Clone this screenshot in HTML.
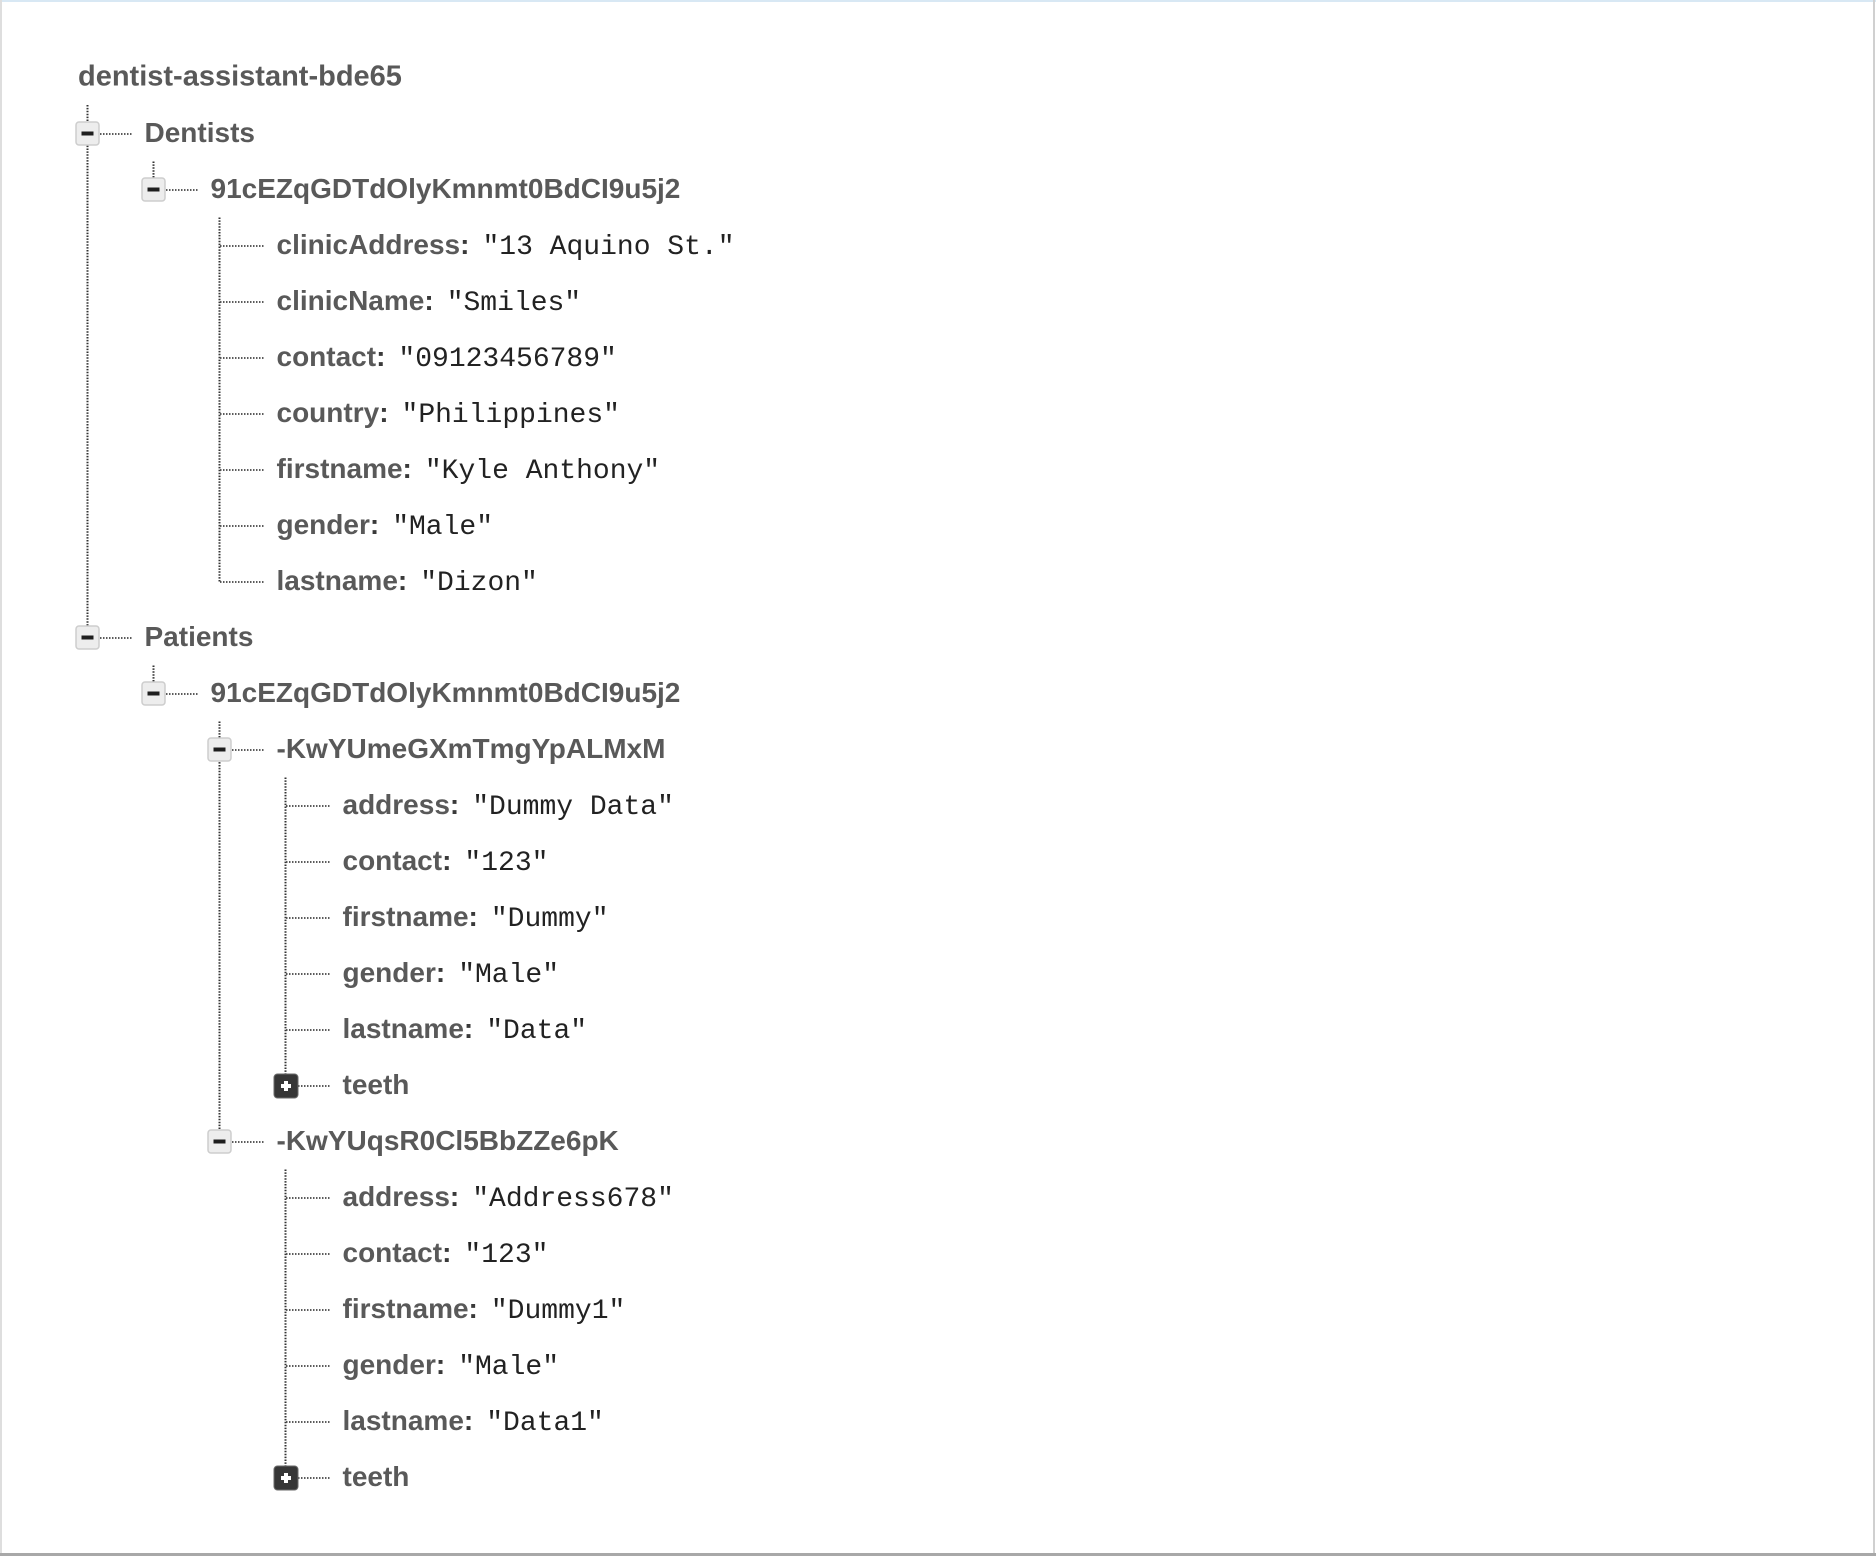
<!DOCTYPE html>
<html>
<head>
<meta charset="utf-8">
<style>
  html, body { margin:0; padding:0; background:#ffffff; }
  body { width:1876px; height:1556px; overflow:hidden; position:relative; }
  svg { position:absolute; left:0; top:0; }
  .lbl { font-family:"Liberation Sans", Arial, sans-serif; font-weight:700; font-size:28px; fill:#595959; }
  .col { font-family:"Liberation Sans", Arial, sans-serif; font-weight:700; font-size:28px; fill:#3a3a3a; }
  .val { font-family:"Liberation Mono", "Courier New", monospace; font-weight:400; font-size:28px; fill:#222222; }
  .ttl { font-family:"Liberation Sans", Arial, sans-serif; font-weight:700; font-size:29px; fill:#595959; }
  .vl { stroke:#333; stroke-width:2; stroke-dasharray:1.5 1.4; fill:none; }
  .hl { stroke:#444; stroke-width:1.7; stroke-dasharray:1.5 1.5; fill:none; }
</style>
</head>
<body>
<svg width="1876" height="1556" viewBox="0 0 1876 1556" xmlns="http://www.w3.org/2000/svg">
  <!-- frame -->
  <rect x="0" y="0" width="1876" height="2" fill="#d8e8f4"/>
  <rect x="0" y="0" width="2" height="1556" fill="#dedede"/>
  <rect x="1873" y="0" width="2" height="1556" fill="#d0d0d0"/>
  <rect x="0" y="1553" width="1876" height="3" fill="#a8a8a8"/>

  <!-- title -->
  <text class="ttl" x="78" y="85.5">dentist-assistant-bde65</text>

  <!-- vertical tree lines -->
  <line class="vl" x1="87.5" y1="105" x2="87.5" y2="626"/>
  <line class="vl" x1="153.5" y1="161.5" x2="153.5" y2="178"/>
  <line class="vl" x1="219.5" y1="217.5" x2="219.5" y2="582"/>
  <line class="vl" x1="153.5" y1="665.5" x2="153.5" y2="682"/>
  <line class="vl" x1="219.5" y1="721.5" x2="219.5" y2="1130"/>
  <line class="vl" x1="285.5" y1="777.5" x2="285.5" y2="1074"/>
  <line class="vl" x1="285.5" y1="1169.5" x2="285.5" y2="1466"/>

  <!-- horizontal connectors: box rows -->
  <line class="hl" x1="100" y1="134" x2="132" y2="134"/>
  <line class="hl" x1="166" y1="190" x2="198" y2="190"/>
  <line class="hl" x1="100" y1="638" x2="132" y2="638"/>
  <line class="hl" x1="166" y1="694" x2="198" y2="694"/>
  <line class="hl" x1="232" y1="750" x2="264" y2="750"/>
  <line class="hl" x1="298" y1="1086" x2="330" y2="1086"/>
  <line class="hl" x1="232" y1="1142" x2="264" y2="1142"/>
  <line class="hl" x1="298" y1="1478" x2="330" y2="1478"/>

  <!-- horizontal connectors: leaf rows level 3 -->
  <line class="hl" x1="220" y1="246" x2="264" y2="246"/>
  <line class="hl" x1="220" y1="302" x2="264" y2="302"/>
  <line class="hl" x1="220" y1="358" x2="264" y2="358"/>
  <line class="hl" x1="220" y1="414" x2="264" y2="414"/>
  <line class="hl" x1="220" y1="470" x2="264" y2="470"/>
  <line class="hl" x1="220" y1="526" x2="264" y2="526"/>
  <line class="hl" x1="220" y1="582" x2="264" y2="582"/>

  <!-- horizontal connectors: leaf rows level 4 -->
  <line class="hl" x1="286" y1="806" x2="330" y2="806"/>
  <line class="hl" x1="286" y1="862" x2="330" y2="862"/>
  <line class="hl" x1="286" y1="918" x2="330" y2="918"/>
  <line class="hl" x1="286" y1="974" x2="330" y2="974"/>
  <line class="hl" x1="286" y1="1030" x2="330" y2="1030"/>
  <line class="hl" x1="286" y1="1198" x2="330" y2="1198"/>
  <line class="hl" x1="286" y1="1254" x2="330" y2="1254"/>
  <line class="hl" x1="286" y1="1310" x2="330" y2="1310"/>
  <line class="hl" x1="286" y1="1366" x2="330" y2="1366"/>
  <line class="hl" x1="286" y1="1422" x2="330" y2="1422"/>

  <!-- minus boxes -->
  <g>
    <rect x="76" y="122" width="23" height="23" rx="3" fill="#ededed" stroke="#cdcdcd" stroke-width="1.5"/>
    <rect x="81.5" y="131.5" width="12" height="4" fill="#1e1e1e"/>
    <rect x="142" y="178" width="23" height="23" rx="3" fill="#ededed" stroke="#cdcdcd" stroke-width="1.5"/>
    <rect x="147.5" y="187.5" width="12" height="4" fill="#1e1e1e"/>
    <rect x="76" y="626" width="23" height="23" rx="3" fill="#ededed" stroke="#cdcdcd" stroke-width="1.5"/>
    <rect x="81.5" y="635.5" width="12" height="4" fill="#1e1e1e"/>
    <rect x="142" y="682" width="23" height="23" rx="3" fill="#ededed" stroke="#cdcdcd" stroke-width="1.5"/>
    <rect x="147.5" y="691.5" width="12" height="4" fill="#1e1e1e"/>
    <rect x="208" y="738" width="23" height="23" rx="3" fill="#ededed" stroke="#cdcdcd" stroke-width="1.5"/>
    <rect x="213.5" y="747.5" width="12" height="4" fill="#1e1e1e"/>
    <rect x="208" y="1130" width="23" height="23" rx="3" fill="#ededed" stroke="#cdcdcd" stroke-width="1.5"/>
    <rect x="213.5" y="1139.5" width="12" height="4" fill="#1e1e1e"/>
  </g>

  <!-- plus boxes -->
  <g>
    <rect x="274" y="1074" width="24" height="24" rx="3.5" fill="#363636" stroke="#6a6a6a" stroke-width="1"/>
    <rect x="281" y="1084" width="10" height="4" fill="#ffffff"/>
    <rect x="284" y="1081" width="4" height="10" fill="#ffffff"/>
    <rect x="274" y="1466" width="24" height="24" rx="3.5" fill="#363636" stroke="#6a6a6a" stroke-width="1"/>
    <rect x="281" y="1476" width="10" height="4" fill="#ffffff"/>
    <rect x="284" y="1473" width="4" height="10" fill="#ffffff"/>
  </g>

  <!-- node labels -->
  <text class="lbl" x="144.5" y="142">Dentists</text>
  <text class="lbl" x="210.5" y="198">91cEZqGDTdOlyKmnmt0BdCI9u5j2</text>

  <text x="276.5" y="254"><tspan class="lbl">clinicAddress</tspan><tspan class="col">:</tspan><tspan class="val" dx="13">"13 Aquino St."</tspan></text>
  <text x="276.5" y="310"><tspan class="lbl">clinicName</tspan><tspan class="col">:</tspan><tspan class="val" dx="13">"Smiles"</tspan></text>
  <text x="276.5" y="366"><tspan class="lbl">contact</tspan><tspan class="col">:</tspan><tspan class="val" dx="13">"09123456789"</tspan></text>
  <text x="276.5" y="422"><tspan class="lbl">country</tspan><tspan class="col">:</tspan><tspan class="val" dx="13">"Philippines"</tspan></text>
  <text x="276.5" y="478"><tspan class="lbl">firstname</tspan><tspan class="col">:</tspan><tspan class="val" dx="13">"Kyle Anthony"</tspan></text>
  <text x="276.5" y="534"><tspan class="lbl">gender</tspan><tspan class="col">:</tspan><tspan class="val" dx="13">"Male"</tspan></text>
  <text x="276.5" y="590"><tspan class="lbl">lastname</tspan><tspan class="col">:</tspan><tspan class="val" dx="13">"Dizon"</tspan></text>

  <text class="lbl" x="144.5" y="646">Patients</text>
  <text class="lbl" x="210.5" y="702">91cEZqGDTdOlyKmnmt0BdCI9u5j2</text>
  <text class="lbl" x="276.5" y="758">-KwYUmeGXmTmgYpALMxM</text>

  <text x="342.5" y="814"><tspan class="lbl">address</tspan><tspan class="col">:</tspan><tspan class="val" dx="13">"Dummy Data"</tspan></text>
  <text x="342.5" y="870"><tspan class="lbl">contact</tspan><tspan class="col">:</tspan><tspan class="val" dx="13">"123"</tspan></text>
  <text x="342.5" y="926"><tspan class="lbl">firstname</tspan><tspan class="col">:</tspan><tspan class="val" dx="13">"Dummy"</tspan></text>
  <text x="342.5" y="982"><tspan class="lbl">gender</tspan><tspan class="col">:</tspan><tspan class="val" dx="13">"Male"</tspan></text>
  <text x="342.5" y="1038"><tspan class="lbl">lastname</tspan><tspan class="col">:</tspan><tspan class="val" dx="13">"Data"</tspan></text>
  <text class="lbl" x="342.5" y="1094">teeth</text>

  <text class="lbl" x="276.5" y="1150">-KwYUqsR0Cl5BbZZe6pK</text>

  <text x="342.5" y="1206"><tspan class="lbl">address</tspan><tspan class="col">:</tspan><tspan class="val" dx="13">"Address678"</tspan></text>
  <text x="342.5" y="1262"><tspan class="lbl">contact</tspan><tspan class="col">:</tspan><tspan class="val" dx="13">"123"</tspan></text>
  <text x="342.5" y="1318"><tspan class="lbl">firstname</tspan><tspan class="col">:</tspan><tspan class="val" dx="13">"Dummy1"</tspan></text>
  <text x="342.5" y="1374"><tspan class="lbl">gender</tspan><tspan class="col">:</tspan><tspan class="val" dx="13">"Male"</tspan></text>
  <text x="342.5" y="1430"><tspan class="lbl">lastname</tspan><tspan class="col">:</tspan><tspan class="val" dx="13">"Data1"</tspan></text>
  <text class="lbl" x="342.5" y="1486">teeth</text>
</svg>
</body>
</html>
